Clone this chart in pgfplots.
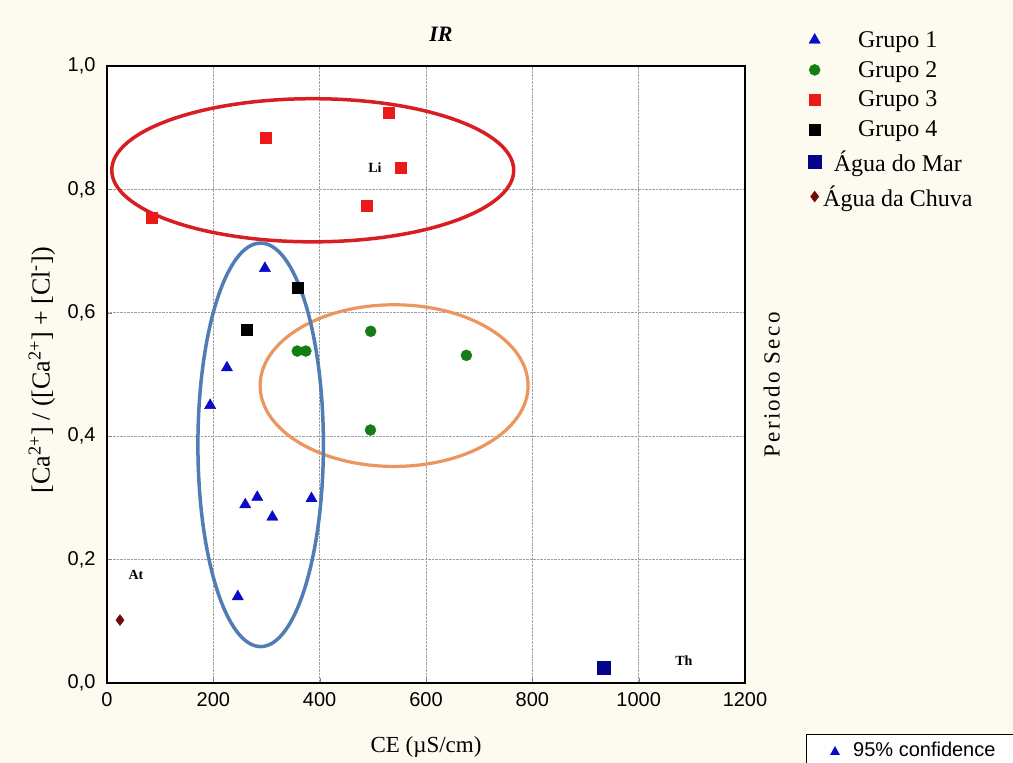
\documentclass[border=0pt]{standalone}
\usepackage{fontspec}
\setmainfont{Liberation Serif}
\setsansfont{Liberation Sans}
\newfontfamily\spacedserif[LetterSpace=10]{Liberation Serif}
\usepackage{pgfplots}
\pgfplotsset{compat=1.18}
\definecolor{bgc}{RGB}{253,250,240}
\definecolor{g1}{RGB}{10,10,200}
\definecolor{g2}{RGB}{20,125,20}
\definecolor{g3}{RGB}{235,25,25}
\definecolor{mar}{RGB}{5,5,140}
\definecolor{chuva}{RGB}{115,10,10}
\definecolor{ellred}{RGB}{215,30,35}
\definecolor{ellblue}{RGB}{80,125,180}
\definecolor{ellorange}{RGB}{235,150,95}
\begin{document}
\begin{tikzpicture}[x=1pt,y=1pt]
\path[use as bounding box] (0,0) rectangle (1013,763);
\fill[bgc] (0,0) rectangle (1013,763);
\begin{axis}[
  at={(107pt,80pt)}, anchor=south west,
  scale only axis, width=638pt, height=617pt,
  xmin=0, xmax=1200, ymin=0, ymax=1,
  axis background/.style={fill=white},
  xtick={0,200,400,600,800,1000,1200},
  ytick={0,0.2,0.4,0.6,0.8,1},
  tick pos=left, tick align=inside, major tick length=5pt,
  axis line style={line width=1.3pt},
  grid=major, major grid style={densely dotted, gray!75, line width=0.6pt},
  ticklabel style={font=\sffamily\fontsize{20}{24}\selectfont},
  xticklabel style={yshift=-6pt, /pgf/number format/.cd, fixed, precision=0, 1000 sep={}, assume math mode=true},
  yticklabel style={xshift=-8pt, /pgf/number format/.cd, fixed, fixed zerofill, precision=1, use comma, assume math mode=true},
  xlabel={CE (µS/cm)},
  xlabel style={at={(axis description cs:0.5,-0.1037)}, anchor=center, font=\fontsize{23}{27}\selectfont},
  ylabel={[Ca\textsuperscript{2+}] / ([Ca\textsuperscript{2+}] + [Cl\textsuperscript{-}])},
  ylabel style={at={(axis description cs:-0.102,0.507)}, anchor=center, font=\fontsize{26}{30}\selectfont},
  title={IR},
  title style={at={(axis description cs:0.5235,1.042)}, anchor=center, font=\bfseries\itshape\fontsize{22}{26}\selectfont},
  legend style={at={(axis description cs:1.094,1.063)}, anchor=north west, draw=none, fill=none,
    font=\fontsize{24}{28}\selectfont, row sep=8.5pt},
  legend cell align=center,
  clip=false,
]
\draw[ellred, line width=3.5pt] (axis cs:387,0.831) ellipse [x radius=378, y radius=0.116];
\draw[ellorange, line width=3.2pt] (axis cs:540,0.482) ellipse [x radius=252, y radius=0.131];
\draw[ellblue, line width=3.5pt] (axis cs:289,0.386) ellipse [x radius=118, y radius=0.327];

\addplot[only marks, mark=triangle*, mark size=6.5pt, color=g1] coordinates {
(297,0.672) (225.6,0.511) (194,0.450) (282.6,0.301) (260,0.289) (311,0.269) (384.6,0.299) (246,0.140)};
\addlegendentry{Grupo 1}
\addplot[only marks, mark=*, mark size=5.5pt, color=g2] coordinates {
(496,0.570) (357.8,0.538) (374,0.538) (676,0.531) (495.5,0.410)};
\addlegendentry{Grupo 2}
\addplot[only marks, mark=square*, mark size=5.5pt, color=g3] coordinates {
(83.8,0.754) (298.9,0.883) (530,0.925) (552.6,0.835) (488,0.773)};
\addlegendentry{Grupo 3}
\addplot[only marks, mark=square*, mark size=5.5pt, color=black] coordinates {
(357.8,0.641) (262.5,0.572)};
\addlegendentry{Grupo 4}
\addplot[only marks, mark=square*, mark size=6.5pt, color=mar] coordinates {
(935,0.024)};
\addlegendentry{Água do Mar}
\addplot[only marks, mark=diamond*, mark size=5.5pt, color=chuva] coordinates {
(24.4,0.102)};
\addlegendentry{Água da Chuva}

\node[font=\bfseries\fontsize{14}{16}\selectfont] at (axis cs:504,0.836) {Li};
\node[font=\bfseries\fontsize{14}{16}\selectfont] at (axis cs:1085,0.036) {Th};
\node[font=\bfseries\fontsize{14}{16}\selectfont] at (axis cs:54.5,0.175) {At};
\node[rotate=90, font=\spacedserif\fontsize{23}{27}\selectfont] at (axis description cs:1.042,0.483) {Periodo Seco};
\end{axis}
\draw[line width=1pt, fill=white] (806,-5) rectangle (1025,28);
\fill[g1] (830,8) -- (840,8) -- (835,17) -- cycle;
\node[anchor=base west, inner sep=0pt, font=\sffamily\fontsize{20}{24}\selectfont] at (853,6) {95\% confidence};
\end{tikzpicture}
\end{document}
